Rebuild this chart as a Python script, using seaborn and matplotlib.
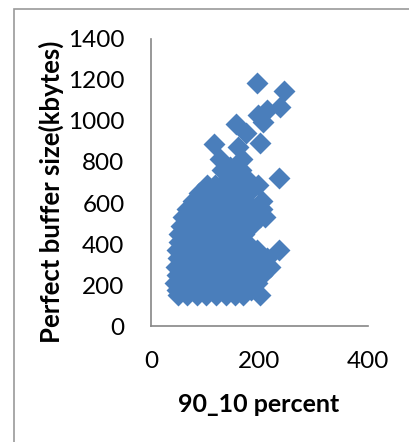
import matplotlib
matplotlib.use("Agg")
import matplotlib.pyplot as plt
import seaborn as sns
import pandas as pd
from matplotlib.patches import Rectangle

# points, row by row (y value: x values)
rows = {
    150: [50, 66, 85, 102, 120, 139, 155, 170, 201],
    175: [48, 60, 78, 95, 112, 130, 148, 165, 185],
    210: [45, 58, 72, 90, 108, 125, 142, 160, 178, 195],
    250: [48, 62, 80, 98, 115, 133, 150, 168, 186, 205],
    290: [47, 65, 83, 100, 118, 136, 154, 172, 190, 210, 219],
    330: [50, 68, 86, 104, 122, 140, 158, 176, 194, 213],
    370: [48, 66, 84, 102, 120, 138, 156, 174, 195, 235],
    410: [52, 70, 88, 106, 124, 142, 160, 175],
    450: [52, 70, 88, 106, 124, 142, 160, 172],
    490: [55, 72, 90, 108, 126, 144, 162, 185],
    530: [60, 78, 96, 114, 132, 150, 170, 200, 210],
    570: [66, 84, 102, 120, 138, 160, 182, 205],
    610: [78, 95, 112, 130, 158, 175, 204],
    650: [88, 105, 122, 145, 170, 178],
    690: [103, 118, 135, 160, 198],
    720: [142, 176, 235],
    760: [130, 150, 166],
    777: [146],
    813: [127, 167],
    875: [161],
    888: [116],
    894: [200],
    940: [176],
    985: [156],
    997: [207],
    1029: [198],
    1054: [213],
    1070: [237],
    1148: [245],
    1184: [195],
}

pct_90_10 = [x for y, xs in rows.items() for x in xs]
buffer_kb = [y for y, xs in rows.items() for x in xs]
df = pd.DataFrame({"pct": pct_90_10, "buf": buffer_kb})

x_ticks = [0, 200, 400]
y_ticks = [0, 200, 400, 600, 800, 1000, 1200, 1400]

sns.set_theme(style="white")
plt.rcParams["font.family"] = ["Lato", "DejaVu Sans"]

fig = plt.figure(figsize=(4.09, 4.42), dpi=100)
ax = fig.add_axes([0.369, 0.2624, 0.531, 0.6494])

sns.scatterplot(data=df, x="pct", y="buf", ax=ax, marker="D", s=125,
                color="#4A7EBB", linewidth=0, alpha=1)

ax.set_xlim(0, 400)
ax.set_ylim(0, 1400)
ax.set_xticks(x_ticks)
ax.set_yticks(y_ticks)
ax.tick_params(axis="both", length=0, labelsize=17.5, colors="black")
ax.tick_params(axis="y", pad=19)
ax.tick_params(axis="x", pad=18)

for s in ["top", "right"]:
    ax.spines[s].set_visible(False)
for s in ["left", "bottom"]:
    ax.spines[s].set_color("#868686")
    ax.spines[s].set_linewidth(1.2)

ax.set_xlabel("90_10 percent", fontsize=18, fontweight="bold", color="black")
ax.set_ylabel("Perfect buffer size(kbytes)", fontsize=18.5, fontweight="bold",
              color="black")
ax.xaxis.set_label_coords(0.498, -0.233)
ax.yaxis.set_label_coords(-0.40, 0.467)

# outer chart frame (cut off on the right and bottom)
fig.add_artist(Rectangle((14 / 409, -0.1), 1.2, (442 - 9) / 442 + 0.1,
                         transform=fig.transFigure, fill=False,
                         edgecolor="#9a9a9a", linewidth=1.2))

fig.savefig("out.png", dpi=100)
